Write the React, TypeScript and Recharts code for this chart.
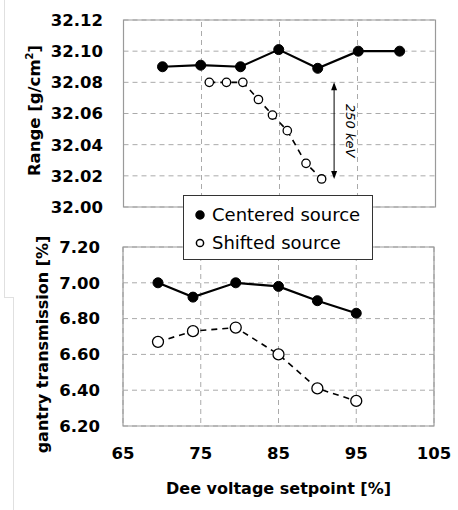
import React from 'react';
import {
  LineChart, Line, XAxis, YAxis, CartesianGrid, ReferenceArea, ReferenceLine, Legend, Label,
} from 'recharts';

const xTicks = [65, 75, 85, 95, 105];
const rangeTicks = [32.0, 32.02, 32.04, 32.06, 32.08, 32.1, 32.12];
const transTicks = [6.2, 6.4, 6.6, 6.8, 7.0, 7.2];

const xCenteredTop = [70, 74.9, 80, 84.9, 89.9, 95.1, 100.4];
const rangeCentered = [32.09, 32.091, 32.09, 32.101, 32.089, 32.1, 32.1];
const xShiftedTop = [76, 78.2, 80.3, 82.3, 84.1, 86, 88.4, 90.4];
const rangeShifted = [32.08, 32.08, 32.08, 32.069, 32.059, 32.049, 32.028, 32.018];

const xBottom = [69.5, 74, 79.5, 85, 90, 95];
const transCentered = [7.0, 6.92, 7.0, 6.98, 6.9, 6.83];
const transShifted = [6.67, 6.73, 6.75, 6.6, 6.41, 6.34];

const arrowX = 92;
const arrowTop = 32.08;
const arrowBottom = 32.018;

const topCentered = xCenteredTop.map((x, i) => ({ x, y: rangeCentered[i] }));
const topShifted = xShiftedTop.map((x, i) => ({ x, y: rangeShifted[i] }));
const botCentered = xBottom.map((x, i) => ({ x, y: transCentered[i] }));
const botShifted = xBottom.map((x, i) => ({ x, y: transShifted[i] }));

const FONT = 'DejaVu Sans';
const tickStyle = { fontFamily: FONT, fontWeight: 'bold', fontSize: 16.5, fill: '#000' };
const GRID = '#aaaaaa';
const BORDER = '#9a9a9a';

const ArrowShape = (p: any) => {
  const x = p.x1;
  const y1 = Math.min(p.y1, p.y2);
  const y2 = Math.max(p.y1, p.y2);
  const my = (y1 + y2) / 2;
  const tx = x + 12;
  return (
    <g>
      <line x1={x} y1={y1 + 2} x2={x} y2={y2 - 2} stroke="#000" strokeWidth={1} />
      <polygon points={`${x},${y1} ${x - 3},${y1 + 8} ${x + 3},${y1 + 8}`} fill="#000" />
      <polygon points={`${x},${y2} ${x - 3},${y2 - 8} ${x + 3},${y2 - 8}`} fill="#000" />
      <text x={tx} y={my} transform={`rotate(90 ${tx} ${my})`} textAnchor="middle"
        fontFamily={FONT} fontStyle="italic" fontSize={13} fill="#000">250 keV</text>
    </g>
  );
};

const GridLineShape = (p: any) => (
  <line x1={p.x1} y1={p.y1} x2={p.x2} y2={p.y2} stroke={GRID} strokeWidth={1} strokeDasharray="5 4" />
);

const RangeLabel = (props: any) => {
  const vb = props.viewBox;
  const cx = 40;
  const cy = vb.y + vb.height / 2 - 3;
  return (
    <text x={cx} y={cy} transform={`rotate(-90 ${cx} ${cy})`} textAnchor="middle"
      fontFamily={FONT} fontWeight="bold" fontSize={16.5} fill="#000">
      Range [g/cm<tspan fontSize={10} dy={-7}>2</tspan><tspan dy={7}>]</tspan>
    </text>
  );
};

const TransLabel = (props: any) => {
  const vb = props.viewBox;
  const cx = 48;
  const cy = vb.y + vb.height / 2 + 8;
  return (
    <text x={cx} y={cy} transform={`rotate(-90 ${cx} ${cy})`} textAnchor="middle"
      fontFamily={FONT} fontWeight="bold" fontSize={16} fill="#000">
      gantry transmission [%]
    </text>
  );
};

const LegendBox = () => (
  <div style={{
    width: 190, height: 65, boxSizing: 'border-box', border: '1.5px solid #333', background: '#fff',
    paddingTop: 5, fontFamily: FONT, fontSize: 18, color: '#000',
  }}>
    {[{ name: 'Centered source', filled: true }, { name: 'Shifted source', filled: false }].map((e) => (
      <div key={e.name} style={{ display: 'flex', alignItems: 'center', height: 28 }}>
        <svg width={12} height={12} style={{ marginLeft: 10 }}>
          <circle cx={6} cy={6} r={e.filled ? 4 : 3.6} fill={e.filled ? '#000' : '#fff'} stroke="#000" strokeWidth={1.5} />
        </svg>
        <span style={{ marginLeft: 6, lineHeight: '28px' }}>{e.name}</span>
      </div>
    ))}
  </div>
);

export default function App() {
  return (
    <div style={{ position: 'absolute', left: 0, top: 0, width: 458, height: 510, background: '#fff' }}>
      <div style={{ position: 'absolute', left: 4, top: 0, width: 1, height: 297, background: '#e0e0e0' }} />
      <div style={{ position: 'absolute', left: 4, top: 297, width: 9, height: 1, background: '#e0e0e0' }} />
      <div style={{ position: 'absolute', left: 13, top: 297, width: 1, height: 213, background: '#e0e0e0' }} />

      <div style={{ position: 'absolute', left: 0, top: 0, zIndex: 1 }}>
        <LineChart width={458} height={510} margin={{ top: 247, right: 24, bottom: 0, left: 0 }}>
          <CartesianGrid stroke={GRID} strokeDasharray="5 4" />
          <XAxis type="number" dataKey="x" domain={[65, 105]} ticks={xTicks} height={84}
            tick={tickStyle} tickLine={false} axisLine={false} tickSize={0} tickMargin={21} interval={0}
            allowDuplicatedCategory={false}>
            <Label value="Dee voltage setpoint [%]" position="insideBottom" offset={16}
              style={{ fontFamily: FONT, fontWeight: 'bold', fontSize: 16, fill: '#000' }} />
          </XAxis>
          <YAxis type="number" domain={[6.2, 7.2]} ticks={transTicks} width={123}
            tickFormatter={(v: number) => v.toFixed(2)} tick={tickStyle} tickLine={false}
            axisLine={false} tickSize={0} tickMargin={23} interval={0}>
            <Label content={<TransLabel />} />
          </YAxis>
          <ReferenceArea x1={65} x2={105} y1={6.2} y2={7.2} fill="none" stroke={BORDER} strokeWidth={1.2} />
          <Line data={botCentered} dataKey="y" stroke="#000" strokeWidth={2.2} isAnimationActive={false}
            dot={{ r: 5, fill: '#000', stroke: '#000', strokeWidth: 1 }} />
          <Line data={botShifted} dataKey="y" stroke="#000" strokeWidth={1.6} strokeDasharray="6 5" isAnimationActive={false}
            dot={{ r: 5.5, fill: '#fff', stroke: '#000', strokeWidth: 1.3, strokeDasharray: '' }} />
        </LineChart>
      </div>

      <div style={{ position: 'absolute', left: 0, top: 0, zIndex: 2 }}>
        <LineChart width={458} height={262} margin={{ top: 20, right: 22.5, bottom: 55, left: 0 }}>
          <CartesianGrid stroke={GRID} strokeDasharray="5 4" vertical={false} />
          <XAxis type="number" dataKey="x" domain={[65, 105]} ticks={xTicks} hide allowDuplicatedCategory={false} />
          <YAxis type="number" domain={[32.0, 32.12]} ticks={rangeTicks} width={123.5}
            tickFormatter={(v: number) => v.toFixed(2)} tick={tickStyle} tickLine={false}
            axisLine={false} tickSize={0} tickMargin={20.5} interval={0}>
            <Label content={<RangeLabel />} />
          </YAxis>
          {xTicks.slice(1, -1).map((v) => (
            <ReferenceLine key={v} segment={[{ x: v, y: 32.0 }, { x: v, y: 32.12 }]}
              ifOverflow="visible" shape={GridLineShape} />
          ))}
          <ReferenceArea x1={65} x2={105} y1={32.0} y2={32.12} fill="none" stroke={BORDER} strokeWidth={1.2} />
          <ReferenceLine segment={[{ x: arrowX, y: arrowTop }, { x: arrowX, y: arrowBottom }]} shape={ArrowShape} />
          <Line data={topCentered} dataKey="y" stroke="#000" strokeWidth={2.2} isAnimationActive={false}
            dot={{ r: 5, fill: '#000', stroke: '#000', strokeWidth: 1 }} />
          <Line data={topShifted} dataKey="y" stroke="#000" strokeWidth={1.6} strokeDasharray="6 5" isAnimationActive={false}
            dot={{ r: 4.2, fill: '#fff', stroke: '#000', strokeWidth: 1.3, strokeDasharray: '' }} />
          <Legend layout="horizontal" verticalAlign="middle" align="center" content={<LegendBox />}
            wrapperStyle={{ position: 'absolute', left: 183, top: 195, width: 190, height: 65 }} />
        </LineChart>
      </div>
    </div>
  );
}
